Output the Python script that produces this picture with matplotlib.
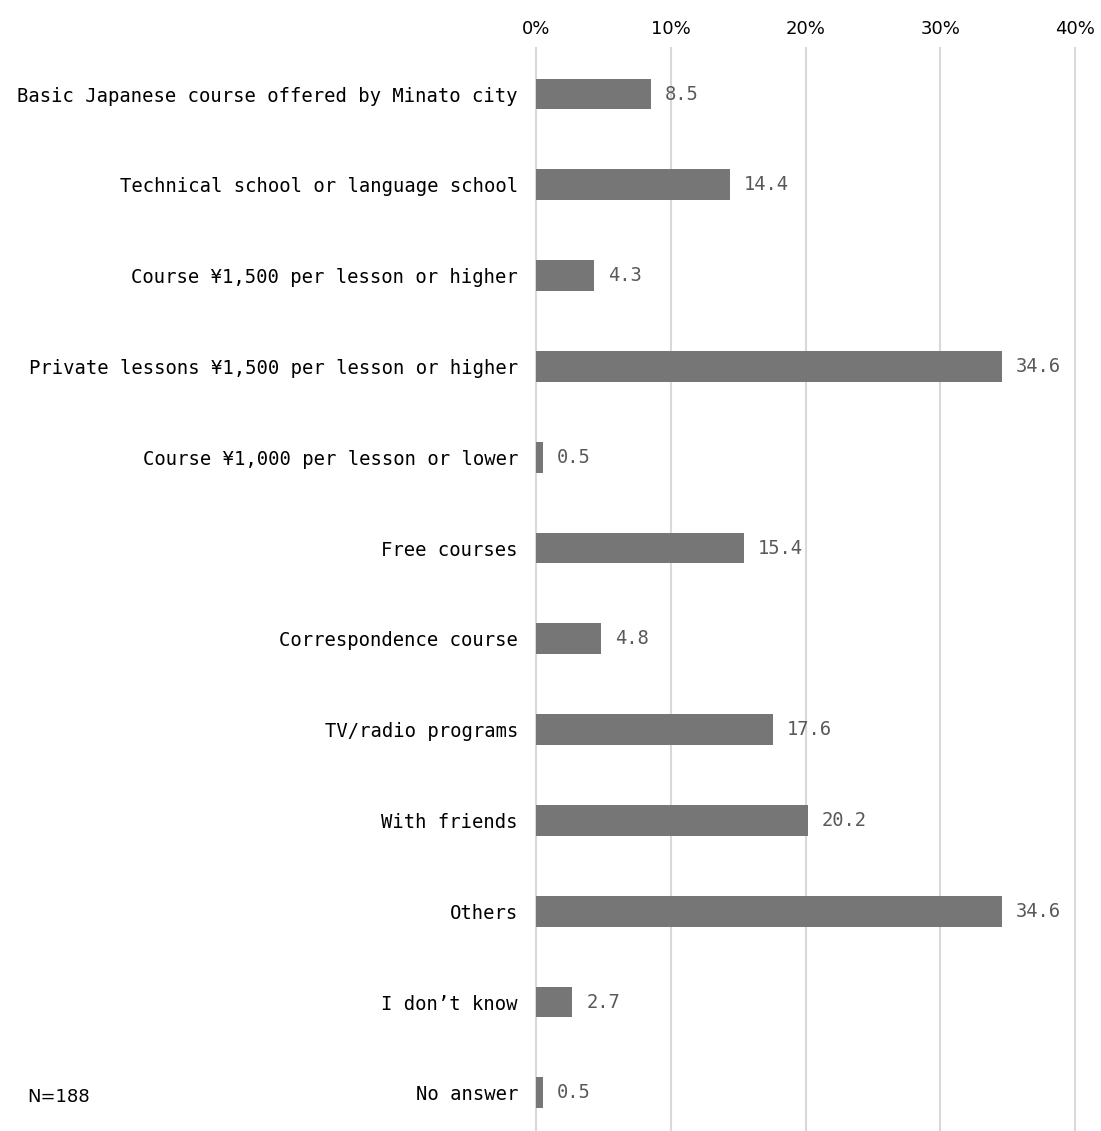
import matplotlib
matplotlib.use("Agg")
import matplotlib.pyplot as plt
from matplotlib.ticker import FuncFormatter
from matplotlib import font_manager

categories = [
    "Basic Japanese course offered by Minato city",
    "Technical school or language school",
    "Course ¥1,500 per lesson or higher",
    "Private lessons ¥1,500 per lesson or higher",
    "Course ¥1,000 per lesson or lower",
    "Free courses",
    "Correspondence course",
    "TV/radio programs",
    "With friends",
    "Others",
    "I don’t know",
    "No answer",
]
values = [8.5, 14.4, 4.3, 34.6, 0.5, 15.4, 4.8, 17.6, 20.2, 34.6, 2.7, 0.5]
value_labels = ["8.5", "14.4", "4.3", "34.6", "0.5", "15.4", "4.8", "17.6", "20.2", "34.6", "2.7", "0.5"]
tick_values = [0, 10, 20, 30, 40]
sample_note = "N=188"

installed = {f.name for f in font_manager.fontManager.ttflist}
tick_font = "Liberation Sans Narrow" if "Liberation Sans Narrow" in installed else "DejaVu Sans"
mono = "DejaVu Sans Mono"

W, H = 1101, 1131
fig = plt.figure(figsize=(W / 100, H / 100), dpi=100)
ax = fig.add_axes([536 / W, 0, (1075 - 536) / W, 1 - 48 / H])

pos = list(range(len(categories)))
ax.barh(pos, values, height=0.34, color="#767676", zorder=3)
for y, v, lab in zip(pos, values, value_labels):
    ax.annotate(lab, (v, y), xytext=(10, 0), textcoords="offset points",
                va="center", ha="left", fontsize=13.5, family=mono, color="#595959")

ax.set_xlim(0, 40)
ax.set_ylim(11.42, -0.507)
ax.set_xticks(tick_values)
ax.xaxis.set_major_formatter(FuncFormatter(lambda x, _: f"{x:.0f}%"))
ax.xaxis.tick_top()
ax.tick_params(axis="x", length=0, pad=7, labelsize=13)
for t in ax.get_xticklabels():
    t.set_family(tick_font)

ax.set_yticks(pos)
ax.set_yticklabels(categories, family=mono, fontsize=13.6)
ax.tick_params(axis="y", length=0, pad=13)

for s in ax.spines.values():
    s.set_visible(False)
ax.grid(axis="x", color="#d9d9d9", linewidth=1.5, zorder=0)
for gl in ax.get_xgridlines():
    gl.set_clip_on(False)
ax.set_axisbelow(True)

fig.text(27 / W, 1 - 1097 / H, sample_note, family=tick_font, fontsize=13, va="center", ha="left")

fig.savefig("out.png", dpi=100)
